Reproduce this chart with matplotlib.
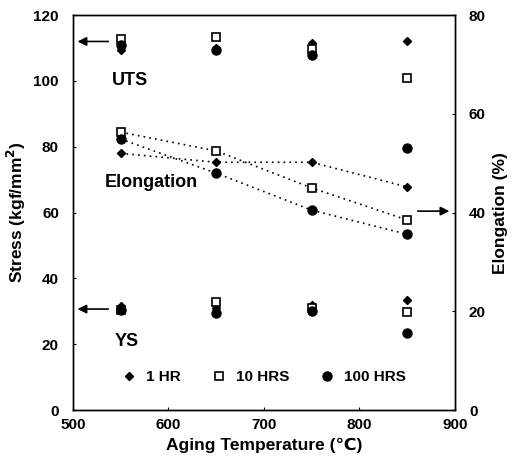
import numpy as np
import matplotlib
matplotlib.use("Agg")
import matplotlib.pyplot as plt

plt.rcParams['font.family'] = ['Liberation Sans', 'DejaVu Sans']
plt.rcParams['font.weight'] = 'bold'

# ข้อมูล
temps = [550, 650, 750, 850]
labels = ["1 HR", "10 HRS", "100 HRS"]

uts_1hr = [109.5, 110, 111.5, 112]
uts_10hr = [112.8, 113.5, 109.6, 101]
uts_100hr = [111, 109.4, 107.8, 79.6]

ys_1hr = [31.5, 31, 32, 33.4]
ys_10hr = [30.5, 32.8, 31, 29.8]
ys_100hr = [30.5, 29.5, 30, 23.5]

elong_1hr = [52, 50.2, 50.2, 45.2]
elong_10hr = [56.3, 52.5, 45, 38.5]
elong_100hr = [54.9, 48, 40.5, 35.6]

fig = plt.figure(figsize=(5.13, 4.73), dpi=100)
ax = fig.add_axes([0.142, 0.133, 0.745, 0.835])
ax2 = ax.twinx()

styles = [
    dict(marker='D', markersize=4.5, color='black', markerfacecolor='black'),
    dict(marker='s', markersize=6, color='black', markerfacecolor='white', markeredgewidth=1.2),
    dict(marker='o', markersize=6.5, color='black', markerfacecolor='black'),
]
uts_all = [uts_1hr, uts_10hr, uts_100hr]
ys_all = [ys_1hr, ys_10hr, ys_100hr]
el_all = [elong_1hr, elong_10hr, elong_100hr]

for i in range(3):
    ax.plot(temps, uts_all[i], linestyle='none', zorder=3, **styles[i])
    ax.plot(temps, ys_all[i], linestyle='none', zorder=3, **styles[i])
    ax2.plot(temps, el_all[i], linestyle=(0, (1, 2.5)), linewidth=1.2, zorder=3, **styles[i])

# legend
handles = [plt.Line2D([], [], linestyle='none', **styles[i]) for i in range(3)]
ax.legend(handles, labels, loc='lower center', bbox_to_anchor=(0.5, 0.03), ncol=3,
          frameon=False, fontsize=11, handletextpad=0.6, columnspacing=2.0,
          handlelength=1.0)

ax.set_xlim(500, 900)
ax.set_ylim(0, 120)
ax2.set_ylim(0, 80)
ax.set_xticks([500, 600, 700, 800, 900])
ax.set_yticks(np.arange(0, 121, 20))
ax2.set_yticks(np.arange(0, 81, 20))

for a in (ax, ax2):
    a.tick_params(direction='in', length=2, labelsize=11, pad=6)
    for s in a.spines.values():
        s.set_linewidth(1.0)
ax.tick_params(axis='y', pad=10)
ax2.tick_params(axis='y', pad=10)

ax.set_xlabel("Aging Temperature (\u2103)", fontsize=12.5, fontweight='bold', labelpad=4)
ax.set_ylabel("Stress (kgf/mm$^\\mathbf{2}$)", fontsize=12.5, fontweight='bold', labelpad=4)
ax2.set_ylabel("Elongation (%)", fontsize=12.5, fontweight='bold', labelpad=5)

# ลูกศรและข้อความ
arrow = dict(arrowstyle='-|>', color='black', lw=1.2, mutation_scale=13)
ax.annotate("", xy=(502, 112), xytext=(540, 112), arrowprops=arrow)
ax.annotate("", xy=(502, 30.7), xytext=(540, 30.7), arrowprops=arrow)
ax2.annotate("", xy=(897, 40.3), xytext=(858, 40.3), arrowprops=arrow)

ax.text(541, 100, "UTS", fontsize=13, fontweight='bold', va='center')
ax.text(533, 69, "Elongation", fontsize=13, fontweight='bold', va='center')
ax.text(544, 20.7, "YS", fontsize=13, fontweight='bold', va='center')

fig.savefig("out.png", dpi=100)
